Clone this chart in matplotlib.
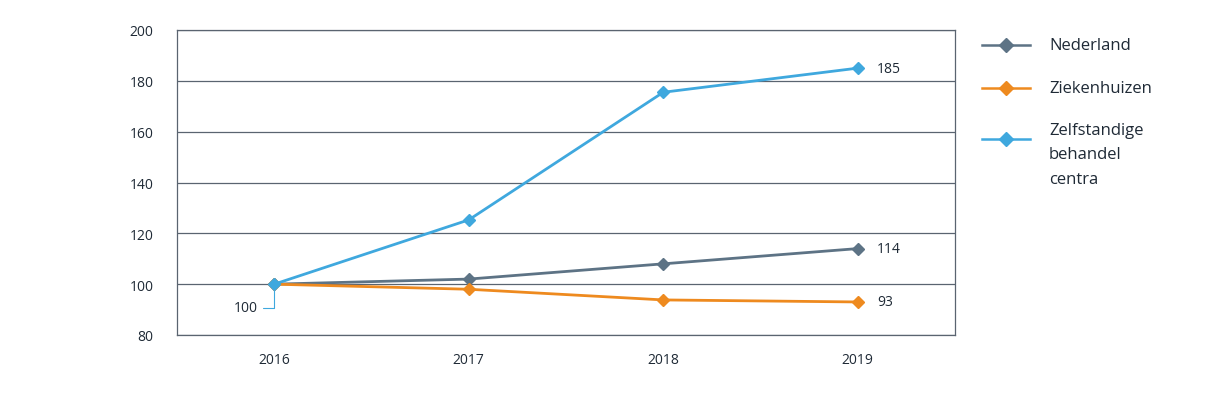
import matplotlib.pyplot as plt
from matplotlib.lines import Line2D

years = ["2016", "2017", "2018", "2019"]
nederland = [100, 102, 108, 114]
ziekenhuizen = [100, 98, 93.8, 93]
zbc = [100, 125.3, 175.5, 185]
series_names = ["Nederland", "Ziekenhuizen", "Zelfstandige\nbehandel\ncentra"]
colors = ["#5d7385", "#ee8a1f", "#3fa8de"]

plt.rcParams['font.family'] = ['Open Sans', 'DejaVu Sans']
txt = "#1f2a36"
W, H = 1211, 410

fig = plt.figure(figsize=(W / 100, H / 100), dpi=100)
ax = fig.add_axes([177 / W, 1 - 336 / H, 778 / W, 305 / H])

x = list(range(len(years)))
for vals, c in zip([nederland, ziekenhuizen, zbc], colors):
    ax.plot(x, vals, color=c, lw=2, marker='D', ms=6.5, zorder=3)

# end labels
for vals in [nederland, ziekenhuizen, zbc]:
    ax.annotate(f"{vals[-1]:.0f}", (x[-1], vals[-1]), xytext=(14, 0),
                textcoords='offset points', va='center', ha='left',
                fontsize=10, color=txt)
# leader label for start
ax.annotate("100", (0, 100), xytext=(-12, -17), textcoords='offset points',
            ha='right', va='center', fontsize=10, color=txt,
            arrowprops=dict(arrowstyle='-', color="#3fa8de", lw=0.8,
                            connectionstyle="angle,angleA=0,angleB=90,rad=0",
                            shrinkA=2, shrinkB=2))

ax.set_xlim(-0.5, 3.5)
ax.set_ylim(80, 200)
ax.set_yticks(range(80, 201, 20))
ax.set_xticks(x)
ax.set_xticklabels(years)
ax.grid(axis='y', color="#5a6470", lw=0.9, zorder=0)
for s in ax.spines.values():
    s.set_color("#5a6470")
    s.set_linewidth(0.9)
ax.tick_params(length=0, labelsize=10, colors=txt, pad=12)
ax.tick_params(axis='y', pad=17)

# legend drawn by hand to match spacing
rows = [46, 89, 140]
text_pos = [46, 89, 123]
for c, name, yh, yt in zip(colors, series_names, rows, text_pos):
    fig.add_artist(Line2D([982 / W, 1030 / W], [1 - yh / H] * 2, color=c, lw=1.8,
                          transform=fig.transFigure))
    fig.add_artist(Line2D([1006 / W], [1 - yh / H], color=c, marker='D', ms=7.5,
                          lw=0, transform=fig.transFigure))
    fig.text(1049 / W, 1 - yt / H, name, fontsize=12, color=txt,
             va='top' if '\n' in name else 'center', ha='left', linespacing=1.7)

fig.savefig("out.png", dpi=100)
